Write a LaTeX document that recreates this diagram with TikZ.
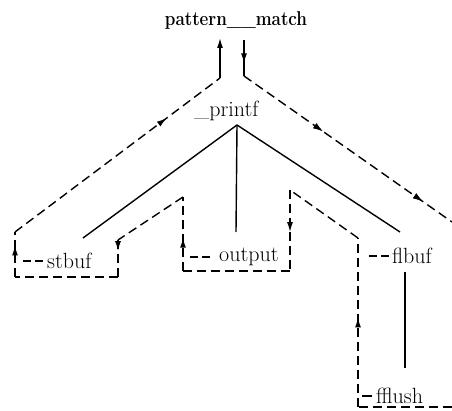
\documentclass[tikz,border=0pt]{standalone}
\usepackage{fontspec}
\setmainfont{Latin Modern Roman}
\usetikzlibrary{decorations.markings,arrows.meta}
\begin{document}
\begin{tikzpicture}[x=1pt,y=-1pt,
  lbl/.style={font=\fontsize{22}{24}\selectfont, inner sep=0pt, anchor=west},
  solidline/.style={line width=1.4pt},
  dashline/.style={line width=1.4pt, dash pattern=on 9pt off 5pt},
  shortdash/.style={line width=1.4pt, dash pattern=on 8pt off 4pt},
  tipmark/.style={postaction={decorate},decoration={markings,mark=at position #1 with {\arrow{Latex[length=10pt,width=6pt]}}}},
]
\useasboundingbox (0,0) rectangle (452,411);

% nodes
\node[font=\bfseries\fontsize{20}{22}\selectfont, inner sep=0pt] (pm) at (236,21) {\scalebox{0.85}[1]{pattern\_\_match}};
\node[lbl] (pf) at (194,111) {\_printf};
\node[lbl] (st) at (47,261) {stbuf};
\node[lbl] (out) at (219,257) {output};
\node[lbl] (fb) at (392,256) {flbuf};
\node[lbl] (ff) at (376,396) {fflush};

% tree (solid)
\coordinate (pv) at (237,125);
\coordinate (stT) at (83,238);
\coordinate (outT) at (236,232);
\coordinate (fbT) at (400,232);
\coordinate (fbB) at (405,272);
\coordinate (ffT) at (405,368);
\draw[solidline] (pv) -- (stT);
\draw[solidline] (pv) -- (outT);
\draw[solidline] (pv) -- (fbT);
\draw[solidline] (fbB) -- (ffT);

% traversal path (dashed)
\coordinate (a1) at (220,38);
\coordinate (a2) at (220,78);
\coordinate (a3) at (15,232);
\coordinate (a4) at (15,277);
\coordinate (a5) at (118,277);
\coordinate (a6) at (118,240);
\coordinate (a7) at (183,197);
\coordinate (a8) at (183,271);
\coordinate (a9) at (290,271);
\coordinate (a10) at (290,190);
\coordinate (a11) at (358,238);
\coordinate (a12) at (358,407);
\coordinate (a13) at (452,407);
\coordinate (b1) at (244,40);
\coordinate (b2) at (244,76);
\coordinate (b3) at (452,222);

\draw[line width=1.4pt, -{Latex[length=10pt,width=6pt]}] (a2) -- (a1);
\draw[line width=1.4pt, tipmark=0.65] (b1) -- (b2);
\draw[dashline, tipmark=0.38, tipmark=0.86] (b2) -- (b3);

\draw[dashline] (a13) -- (a12);
\draw[dashline, tipmark=0.53] (a12) -- (a11);
\draw[dashline] (a11) -- (a10);
\draw[dashline, tipmark=0.52] (a10) -- (a9);
\draw[dashline] (a9) -- (a8);
\draw[dashline, tipmark=0.45] (a8) -- (a7);
\draw[dashline] (a7) -- (a6);
\draw[dashline, tipmark=0.3] (a6) -- (a5);
\draw[dashline] (a5) -- (a4);
\draw[dashline, tipmark=0.7] (a4) -- (a3);
\draw[dashline, tipmark=0.74] (a3) -- (a2);

% leader dashes to labels
\draw[shortdash] ([xshift=-24pt]st.west) -- ([xshift=-4pt]st.west);
\draw[shortdash] ([xshift=-29pt]out.west) -- ([xshift=-9pt]out.west);
\draw[shortdash] ([xshift=-23pt]fb.west) -- ([xshift=-3pt]fb.west);
\draw[line width=1.4pt] ([xshift=-14pt]ff.west) -- ([xshift=-4pt]ff.west);
\end{tikzpicture}
\end{document}
